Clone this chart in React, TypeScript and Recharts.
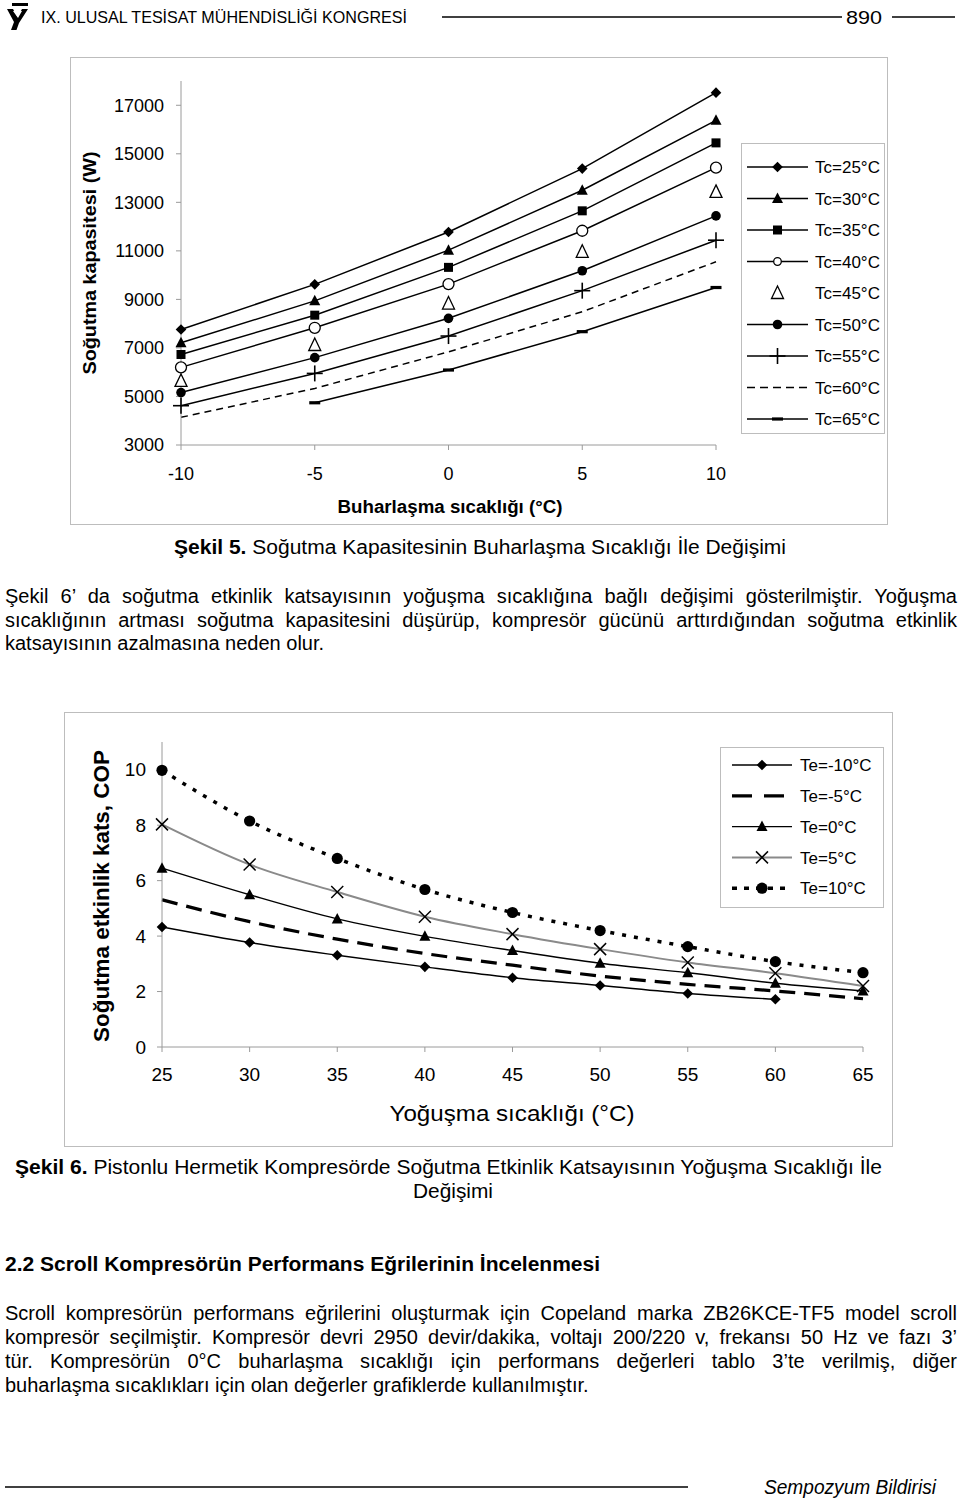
import React from 'react';
import { LineChart, Line, XAxis, YAxis } from 'recharts';

const FONT = '"Liberation Sans", Arial, Helvetica, sans-serif';

// ---------- Figure 5 data: cooling capacity (W) vs evaporating temperature ----------
const evapTemps = [-10, -5, 0, 5, 10];
const capTicks = [3000, 5000, 7000, 9000, 11000, 13000, 15000, 17000];
const tc25 = [7760, 9620, 11780, 14390, 17520];
const tc30 = [7210, 8940, 11030, 13500, 16380];
const tc35 = [6730, 8350, 10320, 12650, 15450];
const tc40 = [6200, 7830, 9630, 11830, 14430];
const tc45 = [5640, 7120, 8830, 10960, 13430];
const tc50 = [5160, 6600, 8220, 10180, 12440];
const tc55 = [4620, 5950, 7490, 9360, 11440];
const tc60 = [4140, 5330, 6840, 8490, 10550];
const tc65 = [null, 4740, 6090, 7670, 9490];

// ---------- Figure 6 data: COP vs condensing temperature ----------
const condTemps = [25, 30, 35, 40, 45, 50, 55, 60, 65];
const copTicks = [0, 2, 4, 6, 8, 10];
const teM10 = [4.33, 3.77, 3.31, 2.89, 2.5, 2.22, 1.93, 1.72, null];
const teM5 = [5.31, 4.52, 3.89, 3.37, 2.95, 2.56, 2.26, 2.02, 1.74];
const te0 = [6.45, 5.49, 4.62, 3.99, 3.48, 3.02, 2.68, 2.3, 2.02];
const te5 = [8.03, 6.58, 5.59, 4.7, 4.07, 3.53, 3.05, 2.66, 2.2];
const te10 = [9.98, 8.15, 6.8, 5.68, 4.85, 4.2, 3.62, 3.08, 2.68];

type Kind =
  | 'diamond' | 'triangle' | 'square' | 'openCircle' | 'openTriangle'
  | 'circle' | 'plus' | 'bar' | 'cross' | 'bigCircle' | 'smallCircle' | 'none';

type Series = {
  key: string;
  name: string;
  values: (number | null)[];
  marker: Kind;
  stroke: string;
  width: number;
  dash?: string;
  noLine?: boolean;
  legendDash?: string;
  legendMarker?: Kind;
};

const tcSeries: Series[] = [
  { key: 'tc25', name: 'Tc=25°C', values: tc25, marker: 'diamond', stroke: '#000', width: 1.5 },
  { key: 'tc30', name: 'Tc=30°C', values: tc30, marker: 'triangle', stroke: '#000', width: 1.5 },
  { key: 'tc35', name: 'Tc=35°C', values: tc35, marker: 'square', stroke: '#000', width: 1.5 },
  { key: 'tc40', name: 'Tc=40°C', values: tc40, marker: 'openCircle', stroke: '#000', width: 1.5, legendMarker: 'smallCircle' },
  { key: 'tc45', name: 'Tc=45°C', values: tc45, marker: 'openTriangle', stroke: '#000', width: 1.5, noLine: true },
  { key: 'tc50', name: 'Tc=50°C', values: tc50, marker: 'circle', stroke: '#000', width: 1.5 },
  { key: 'tc55', name: 'Tc=55°C', values: tc55, marker: 'plus', stroke: '#000', width: 1.5 },
  { key: 'tc60', name: 'Tc=60°C', values: tc60, marker: 'none', stroke: '#000', width: 1.5, dash: '7 5', legendDash: '8 5' },
  { key: 'tc65', name: 'Tc=65°C', values: tc65, marker: 'bar', stroke: '#000', width: 1.5 },
];

const teSeries: Series[] = [
  { key: 'teM10', name: 'Te=-10°C', values: teM10, marker: 'diamond', stroke: '#000', width: 1.4 },
  { key: 'teM5', name: 'Te=-5°C', values: teM5, marker: 'none', stroke: '#000', width: 3.2, dash: '16 9', legendDash: '20 12' },
  { key: 'te0', name: 'Te=0°C', values: te0, marker: 'triangle', stroke: '#000', width: 1.4 },
  { key: 'te5', name: 'Te=5°C', values: te5, marker: 'cross', stroke: '#8a8a8a', width: 2 },
  { key: 'te10', name: 'Te=10°C', values: te10, marker: 'bigCircle', stroke: '#000', width: 3.5, dash: '4 8', legendDash: '5 7' },
];

const capRows = evapTemps.map((x, i) => {
  const row: Record<string, number | null> = { x };
  tcSeries.forEach((s) => { row[s.key] = s.values[i]; });
  return row;
});

const copRows = condTemps.map((x, i) => {
  const row: Record<string, number | null> = { x };
  teSeries.forEach((s) => { row[s.key] = s.values[i]; });
  return row;
});

function Marker({ kind, cx, cy }: { kind: Kind; cx: number; cy: number }) {
  switch (kind) {
    case 'diamond': {
      const s = 5.3;
      return <polygon points={`${cx},${cy - s} ${cx + s},${cy} ${cx},${cy + s} ${cx - s},${cy}`} fill="#000" />;
    }
    case 'triangle':
      return <polygon points={`${cx},${cy - 6} ${cx + 5.5},${cy + 4.5} ${cx - 5.5},${cy + 4.5}`} fill="#000" />;
    case 'square':
      return <rect x={cx - 4.5} y={cy - 4.5} width={9} height={9} fill="#000" />;
    case 'openCircle':
      return <circle cx={cx} cy={cy} r={5.5} fill="#fff" stroke="#000" strokeWidth={1.3} />;
    case 'smallCircle':
      return <circle cx={cx} cy={cy} r={3.8} fill="#fff" stroke="#000" strokeWidth={1.3} />;
    case 'openTriangle':
      return <polygon points={`${cx},${cy - 7} ${cx + 6},${cy + 5.5} ${cx - 6},${cy + 5.5}`} fill="#fff" stroke="#000" strokeWidth={1.3} />;
    case 'circle':
      return <circle cx={cx} cy={cy} r={4.8} fill="#000" />;
    case 'bigCircle':
      return <circle cx={cx} cy={cy} r={5.6} fill="#000" />;
    case 'plus':
      return (
        <g stroke="#000" strokeWidth={1.6}>
          <line x1={cx - 8} y1={cy} x2={cx + 8} y2={cy} />
          <line x1={cx} y1={cy - 8} x2={cx} y2={cy + 8} />
        </g>
      );
    case 'bar':
      return <rect x={cx - 5.5} y={cy - 1.6} width={11} height={3.2} fill="#000" />;
    case 'cross':
      return (
        <g stroke="#000" strokeWidth={1.5}>
          <line x1={cx - 6} y1={cy - 6} x2={cx + 6} y2={cy + 6} />
          <line x1={cx - 6} y1={cy + 6} x2={cx + 6} y2={cy - 6} />
        </g>
      );
    default:
      return null;
  }
}

const dotFor = (kind: Kind) => (props: any) => {
  const { cx, cy, index } = props;
  const k = `m-${index}`;
  if (cx == null || cy == null || Number.isNaN(cx) || Number.isNaN(cy)) return <g key={k} />;
  return (
    <g key={k}>
      <Marker kind={kind} cx={cx} cy={cy} />
    </g>
  );
};

function LegendBox({
  items, left, top, width, height, firstRow, rowGap, lineX1, lineX2, textX, fontSize,
}: {
  items: Series[]; left: number; top: number; width: number; height: number;
  firstRow: number; rowGap: number; lineX1: number; lineX2: number; textX: number; fontSize: number;
}) {
  const mid = (lineX1 + lineX2) / 2;
  return (
    <div style={{ position: 'absolute', left, top, width, height, border: '1px solid #bdbdbd', boxSizing: 'border-box', background: '#fff' }}>
      <svg width={width} height={height} style={{ position: 'absolute', left: -1, top: -1 }}>
        {items.map((s, i) => {
          const y = firstRow + i * rowGap;
          return (
            <g key={s.key}>
              {!s.noLine && (
                <line x1={lineX1} y1={y} x2={lineX2} y2={y} stroke={s.stroke} strokeWidth={s.width} strokeDasharray={s.legendDash || s.dash} />
              )}
              {s.marker !== 'none' && <Marker kind={s.legendMarker || s.marker} cx={mid} cy={y} />}
              <text x={textX} y={y} dy="0.36em" fontSize={fontSize} fontFamily={FONT} fill="#000">{s.name}</text>
            </g>
          );
        })}
      </svg>
    </div>
  );
}

const para1 = [
  'Şekil 6’ da soğutma etkinlik katsayısının yoğuşma sıcaklığına bağlı değişimi gösterilmiştir. Yoğuşma',
  'sıcaklığının artması soğutma kapasitesini düşürüp, kompresör gücünü arttırdığından soğutma etkinlik',
  'katsayısının azalmasına neden olur.',
];
const para1Baselines = [603, 627, 650];

const para2 = [
  'Scroll kompresörün performans eğrilerini oluşturmak için Copeland marka ZB26KCE-TF5 model scroll',
  'kompresör seçilmiştir. Kompresör devri 2950 devir/dakika, voltajı 200/220 v, frekansı 50 Hz ve fazı 3’',
  'tür. Kompresörün 0°C buharlaşma sıcaklığı için performans değerleri tablo 3’te verilmiş, diğer',
  'buharlaşma sıcaklıkları için olan değerler grafiklerde kullanılmıştır.',
];
const para2Baselines = [1320, 1344, 1368, 1392];

function ParaLines({ lines, baselines }: { lines: string[]; baselines: number[] }) {
  return (
    <>
      {lines.map((t, i) => {
        const last = i === lines.length - 1;
        return (
          <div
            key={i}
            style={{
              position: 'absolute', left: 5, width: 952, top: baselines[i] - 19,
              fontSize: 20, lineHeight: '24px', fontFamily: FONT,
              textAlign: last ? 'left' : 'justify',
              textAlignLast: last ? 'left' : 'justify',
            } as React.CSSProperties}
          >
            {t}
          </div>
        );
      })}
    </>
  );
}

const axisStroke = '#9a9a9a';

export default function App() {
  return (
    <div style={{ position: 'absolute', left: 0, top: 0, width: 960, height: 1501, background: '#fff', overflow: 'hidden', fontFamily: FONT, color: '#000' }}>
      {/* Figure 5 */}
      <div style={{ position: 'absolute', left: 70, top: 57, width: 818, height: 468, border: '1px solid #bdbdbd', boxSizing: 'border-box' }} />
      <div style={{ position: 'absolute', left: 70, top: 57 }}>
        <LineChart width={818} height={468} data={capRows} margin={{ top: 24, right: 172, bottom: 50, left: 0 }}>
          <XAxis
            dataKey="x" type="number" domain={[-10, 10]} ticks={evapTemps} height={30}
            tickSize={5} tickMargin={17} interval={0}
            axisLine={{ stroke: axisStroke }} tickLine={{ stroke: axisStroke }}
            tick={{ fill: '#000', fontSize: 18, fontFamily: FONT }}
          />
          <YAxis
            type="number" domain={[3000, 18000]} ticks={capTicks} width={111} interval={0}
            tickSize={5} tickMargin={12}
            axisLine={{ stroke: axisStroke }} tickLine={{ stroke: axisStroke }}
            tick={{ fill: '#000', fontSize: 18, fontFamily: FONT }}
          />
          {tcSeries.map((s) => (
            <Line
              key={s.key} dataKey={s.key} name={s.name} type="linear"
              stroke={s.noLine ? 'none' : s.stroke} strokeWidth={s.width} strokeDasharray={s.dash}
              dot={s.marker === 'none' ? false : dotFor(s.marker)} activeDot={false}
              isAnimationActive={false} connectNulls={false}
            />
          ))}
        </LineChart>
      </div>
      <LegendBox items={tcSeries} left={741} top={143} width={144} height={291} firstRow={24} rowGap={31.5} lineX1={6} lineX2={67} textX={74} fontSize={17} />

      {/* Figure 6 */}
      <div style={{ position: 'absolute', left: 64, top: 712, width: 829, height: 435, border: '1px solid #bdbdbd', boxSizing: 'border-box' }} />
      <div style={{ position: 'absolute', left: 64, top: 712 }}>
        <LineChart width={829} height={435} data={copRows} margin={{ top: 30, right: 30, bottom: 70, left: 0 }}>
          <XAxis
            dataKey="x" type="number" domain={[25, 65]} ticks={condTemps} height={30}
            tickSize={5} tickMargin={16} interval={0}
            axisLine={{ stroke: axisStroke }} tickLine={{ stroke: axisStroke }}
            tick={{ fill: '#000', fontSize: 19, fontFamily: FONT }}
          />
          <YAxis
            type="number" domain={[0, 11]} ticks={copTicks} width={98} interval={0}
            tickSize={5} tickMargin={11}
            axisLine={{ stroke: axisStroke }} tickLine={{ stroke: axisStroke }}
            tick={{ fill: '#000', fontSize: 19, fontFamily: FONT }}
          />
          {teSeries.map((s) => (
            <Line
              key={s.key} dataKey={s.key} name={s.name} type="monotone"
              stroke={s.stroke} strokeWidth={s.width} strokeDasharray={s.dash}
              dot={s.marker === 'none' ? false : dotFor(s.marker)} activeDot={false}
              isAnimationActive={false} connectNulls={false}
            />
          ))}
        </LineChart>
      </div>
      <LegendBox items={teSeries} left={720} top={747} width={164} height={161} firstRow={18} rowGap={30.8} lineX1={12} lineX2={72} textX={80} fontSize={17} />

      {/* Text overlay */}
      <svg width={960} height={1501} style={{ position: 'absolute', left: 0, top: 0, pointerEvents: 'none' }} fontFamily={FONT}>
        {/* header */}
        <rect x={12} y={3} width={16} height={3} fill="#000" />
        <path d="M7 9 L13 9 L17.5 17 L22 9 L28 9 L19 23 L16.5 30 L11 30 L14 22 Z" fill="#000" />
        <path d="M13 11 L15 11 L17.5 15.5 L20 11 L22 11 L18 18 Z" fill="#fff" />
        <text x={41} y={23} fontSize={17} textLength={366} lengthAdjust="spacingAndGlyphs">IX. ULUSAL TESİSAT MÜHENDİSLİĞİ KONGRESİ</text>
        <line x1={442} y1={17} x2={842} y2={17} stroke="#000" strokeWidth={1.3} />
        <text x={846} y={24} fontSize={19} textLength={36} lengthAdjust="spacingAndGlyphs">890</text>
        <line x1={892} y1={17} x2={955} y2={17} stroke="#000" strokeWidth={1.3} />

        {/* fig 5 axis titles */}
        <text x={90} y={263} transform="rotate(-90 90 263)" textAnchor="middle" dy="0.36em" fontSize={18} fontWeight="bold" textLength={223} lengthAdjust="spacingAndGlyphs">Soğutma kapasitesi (W)</text>
        <text x={450} y={507} textAnchor="middle" dy="0.36em" fontSize={18} fontWeight="bold" textLength={225} lengthAdjust="spacingAndGlyphs">Buharlaşma sıcaklığı (°C)</text>

        {/* caption 5 */}
        <text x={174} y={554} fontSize={20} textLength={612} lengthAdjust="spacingAndGlyphs">
          <tspan fontWeight="bold">Şekil 5.</tspan> Soğutma Kapasitesinin Buharlaşma Sıcaklığı İle Değişimi
        </text>

        {/* fig 6 axis titles */}
        <text x={101} y={896} transform="rotate(-90 101 896)" textAnchor="middle" dy="0.36em" fontSize={22} fontWeight="bold" textLength={292} lengthAdjust="spacingAndGlyphs">Soğutma etkinlik kats, COP</text>
        <text x={512} y={1113} textAnchor="middle" dy="0.36em" fontSize={22} textLength={245} lengthAdjust="spacingAndGlyphs">Yoğuşma sıcaklığı (°C)</text>

        {/* caption 6 */}
        <text x={15} y={1174} fontSize={20} textLength={867} lengthAdjust="spacingAndGlyphs">
          <tspan fontWeight="bold">Şekil 6.</tspan> Pistonlu Hermetik Kompresörde Soğutma Etkinlik Katsayısının Yoğuşma Sıcaklığı İle
        </text>
        <text x={453} y={1198} textAnchor="middle" fontSize={20} textLength={80} lengthAdjust="spacingAndGlyphs">Değişimi</text>

        {/* heading */}
        <text x={5} y={1271} fontSize={20} fontWeight="bold" textLength={595} lengthAdjust="spacingAndGlyphs">2.2 Scroll Kompresörün Performans Eğrilerinin İncelenmesi</text>

        {/* footer */}
        <line x1={5} y1={1487} x2={688} y2={1487} stroke="#000" strokeWidth={1.5} />
        <text x={764} y={1494} fontSize={20} fontStyle="italic" textLength={172} lengthAdjust="spacingAndGlyphs">Sempozyum Bildirisi</text>
      </svg>

      <ParaLines lines={para1} baselines={para1Baselines} />
      <ParaLines lines={para2} baselines={para2Baselines} />
    </div>
  );
}
